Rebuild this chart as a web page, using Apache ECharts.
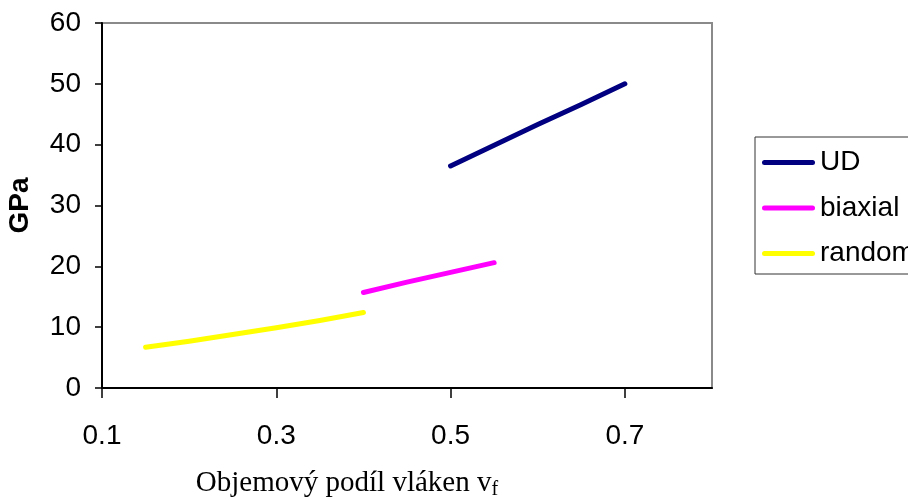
<!DOCTYPE html>
<html>
<head>
<meta charset="utf-8">
<script src="https://cdn.jsdelivr.net/npm/echarts@6/dist/echarts.min.js"></script>
<style>
  html, body { margin: 0; padding: 0; background: #fff; }
  #chart { width: 908px; height: 500px; }
</style>
</head>
<body>
<div id="chart"></div>
<script>
/* -------------------------------------------------------------------------- */
/*                     Modul pruznosti vs. objemovy podil                     */
/* -------------------------------------------------------------------------- */

const udX = [0.5, 0.55, 0.6, 0.65, 0.7];
const udY = [36.5, 39.9, 43.3, 46.6, 50.0];

const biaxialX = [0.4, 0.45, 0.5, 0.55];
const biaxialY = [15.7, 17.4, 19.0, 20.6];

const randomX = [0.15, 0.2, 0.25, 0.3, 0.35, 0.4];
const randomY = [6.7, 7.7, 8.8, 9.9, 11.1, 12.4];

const xTicks = [0.1, 0.3, 0.5, 0.7];
const seriesNames = ['UD', 'biaxial', 'random'];

const pairs = (xs, ys) => xs.map((x, i) => [x, ys[i]]);

const chart = echarts.init(document.getElementById('chart'));

const sansFont = '"Liberation Sans", Arial, sans-serif';
const lineIcon = 'path://M2.5,0 L50.5,0 A2.5,2.5 0 0 1 50.5,5 L2.5,5 A2.5,2.5 0 0 1 2.5,0 Z';

const lineSeries = (name, data, color) => ({
  name,
  type: 'line',
  data,
  showSymbol: false,
  symbol: 'none',
  lineStyle: { width: 5, color, cap: 'round', join: 'round' },
  itemStyle: { color },
  animation: false
});

chart.setOption({
  animation: false,
  backgroundColor: '#fff',
  grid: {
    left: 102,
    right: 196,
    top: 23,
    bottom: 112,
    show: true,
    borderColor: '#8a8a8a',
    borderWidth: 2,
    containLabel: false,
    outerBoundsMode: 'none'
  },
  legend: {
    orient: 'vertical',
    left: 755,
    top: 137,
    padding: [10.5, 40, 5.5, 7],
    itemGap: 15.5,
    itemWidth: 53,
    itemHeight: 5,
    icon: lineIcon,
    borderColor: '#333',
    borderWidth: 1,
    data: seriesNames,
    textStyle: {
      fontFamily: sansFont,
      fontSize: 28,
      lineHeight: 30,
      color: '#000'
    }
  },
  xAxis: {
    type: 'value',
    min: 0.1,
    max: 0.8,
    axisLine: { show: true, lineStyle: { color: '#000', width: 2 } },
    axisTick: {
      show: true,
      length: 10,
      customValues: xTicks,
      lineStyle: { color: '#000', width: 1.5 }
    },
    axisLabel: {
      customValues: xTicks,
      formatter: v => v.toFixed(1),
      margin: 34,
      fontFamily: sansFont,
      fontSize: 28,
      color: '#000'
    },
    splitLine: { show: false }
  },
  yAxis: {
    type: 'value',
    min: 0,
    max: 60,
    interval: 10,
    name: 'GPa',
    nameLocation: 'middle',
    nameGap: 68,
    nameTextStyle: {
      fontFamily: sansFont,
      fontSize: 28,
      fontWeight: 'bold',
      color: '#000'
    },
    axisLine: { show: true, lineStyle: { color: '#000', width: 2 } },
    axisTick: { show: true, length: 7, lineStyle: { color: '#000', width: 1.5 } },
    axisLabel: {
      margin: 21,
      padding: [4, 0, 0, 0],
      fontFamily: sansFont,
      fontSize: 28,
      color: '#000'
    },
    splitLine: { show: false }
  },
  graphic: [
    {
      type: 'text',
      x: 347,
      y: 483,
      style: {
        text: 'Objemový podíl vláken v{sub|f}',
        align: 'center',
        verticalAlign: 'middle',
        fontFamily: '"Liberation Serif", "Times New Roman", serif',
        fontSize: 29,
        lineHeight: 34,
        fill: '#000',
        rich: {
          sub: {
            fontFamily: '"Liberation Serif", "Times New Roman", serif',
            fontSize: 20,
            lineHeight: 20,
            verticalAlign: 'bottom',
            fill: '#000'
          }
        }
      }
    }
  ],
  series: [
    lineSeries('UD', pairs(udX, udY), '#000080'),
    lineSeries('biaxial', pairs(biaxialX, biaxialY), '#ff00ff'),
    lineSeries('random', pairs(randomX, randomY), '#ffff00')
  ]
});
</script>
</body>
</html>
